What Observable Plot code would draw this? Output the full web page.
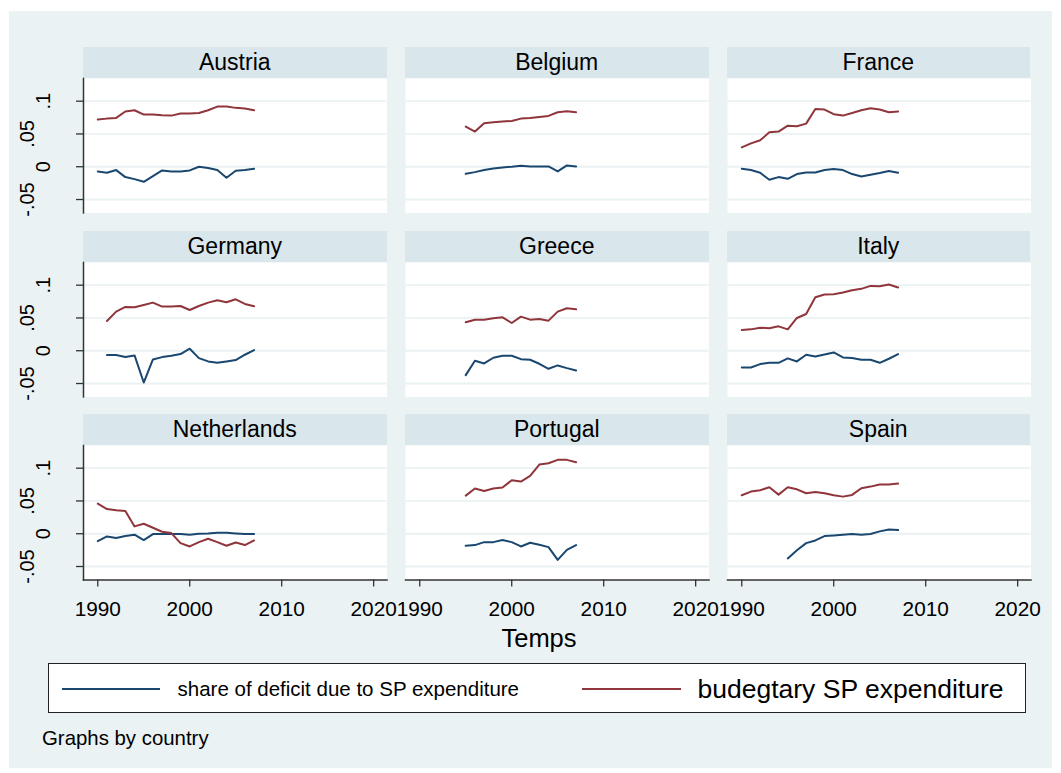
<!DOCTYPE html>
<html>
<head>
<meta charset="utf-8">
<script src="https://cdn.jsdelivr.net/npm/d3@7"></script>
<script src="https://cdn.jsdelivr.net/npm/@observablehq/plot@0.6"></script>
<style>
  body { margin: 0; background: #fff; font-family: "Liberation Sans", Arial, sans-serif; }
  #root { position: relative; width: 1061px; height: 773px; background: #fff; overflow: hidden; }
  #bg { position: absolute; left: 9px; top: 11px; width: 1043px; height: 757px; background: #EAF2F3; }
  .hdr { position: absolute; background: #D9E6EB; display: flex; align-items: center; justify-content: center;
         font-size: 23px; color: #000; white-space: nowrap; }
  .panel { position: absolute; }
  .txt { position: absolute; color: #000; white-space: nowrap; line-height: 1; }
  #legend { position: absolute; left: 47.5px; top: 663px; width: 976px; height: 48px; background: #fff; border: 1px solid #222; }
  .swatch { position: absolute; height: 2px; }
</style>
</head>
<body>
<div id="root"><div id="bg"></div></div>
<script>
// ---------- data ----------
const countries = ["Austria", "Belgium", "France", "Germany", "Greece", "Italy", "Netherlands", "Portugal", "Spain"];
const seriesNames = ["share of deficit due to SP expenditure", "budegtary SP expenditure"];
const seriesColors = ["#1A476F", "#90353B"];

const years1990 = [1990, 1991, 1992, 1993, 1994, 1995, 1996, 1997, 1998, 1999, 2000, 2001, 2002, 2003, 2004, 2005, 2006, 2007];
const years1991 = [1991, 1992, 1993, 1994, 1995, 1996, 1997, 1998, 1999, 2000, 2001, 2002, 2003, 2004, 2005, 2006, 2007];
const years1995 = [1995, 1996, 1997, 1998, 1999, 2000, 2001, 2002, 2003, 2004, 2005, 2006, 2007];

const austriaDeficit = [-0.0071, -0.0092, -0.0051, -0.0158, -0.0189, -0.0230, -0.0143, -0.0056, -0.0071, -0.0071, -0.0056, 0.0000, -0.0020, -0.0051, -0.0168, -0.0061, -0.0051, -0.0031];
const austriaSpending = [0.0719, 0.0734, 0.0745, 0.0842, 0.0862, 0.0796, 0.0796, 0.0785, 0.0780, 0.0811, 0.0811, 0.0821, 0.0862, 0.0918, 0.0918, 0.0898, 0.0887, 0.0862];

const belgiumDeficit = [-0.0107, -0.0082, -0.0051, -0.0026, -0.0010, 0.0000, 0.0015, 0.0005, 0.0005, 0.0005, -0.0071, 0.0020, 0.0005];
const belgiumSpending = [0.0612, 0.0536, 0.0663, 0.0678, 0.0689, 0.0699, 0.0734, 0.0745, 0.0760, 0.0775, 0.0831, 0.0847, 0.0831];

const franceDeficit = [-0.0031, -0.0051, -0.0092, -0.0199, -0.0158, -0.0184, -0.0112, -0.0087, -0.0087, -0.0051, -0.0036, -0.0051, -0.0112, -0.0148, -0.0122, -0.0097, -0.0066, -0.0092];
const franceSpending = [0.0296, 0.0357, 0.0403, 0.0525, 0.0536, 0.0627, 0.0617, 0.0658, 0.0882, 0.0872, 0.0801, 0.0780, 0.0821, 0.0862, 0.0893, 0.0872, 0.0831, 0.0842];

const germanyDeficit = [-0.0066, -0.0066, -0.0097, -0.0071, -0.0485, -0.0133, -0.0097, -0.0077, -0.0051, 0.0031, -0.0112, -0.0163, -0.0184, -0.0163, -0.0143, -0.0061, 0.0010];
const germanySpending = [0.0454, 0.0597, 0.0668, 0.0663, 0.0699, 0.0734, 0.0673, 0.0673, 0.0683, 0.0622, 0.0683, 0.0734, 0.0770, 0.0740, 0.0785, 0.0714, 0.0678];

const greeceDeficit = [-0.0372, -0.0153, -0.0194, -0.0107, -0.0077, -0.0077, -0.0128, -0.0138, -0.0199, -0.0275, -0.0224, -0.0265, -0.0301];
const greeceSpending = [0.0434, 0.0474, 0.0474, 0.0495, 0.0510, 0.0423, 0.0520, 0.0474, 0.0485, 0.0459, 0.0597, 0.0648, 0.0632];

const italyDeficit = [-0.0255, -0.0255, -0.0204, -0.0184, -0.0184, -0.0117, -0.0163, -0.0061, -0.0087, -0.0056, -0.0026, -0.0102, -0.0112, -0.0138, -0.0138, -0.0184, -0.0122, -0.0051];
const italySpending = [0.0316, 0.0326, 0.0352, 0.0342, 0.0372, 0.0326, 0.0500, 0.0561, 0.0816, 0.0857, 0.0862, 0.0887, 0.0923, 0.0944, 0.0989, 0.0984, 0.1010, 0.0964];

const netherlandsDeficit = [-0.0112, -0.0041, -0.0066, -0.0036, -0.0015, -0.0097, -0.0005, -0.0005, -0.0005, -0.0005, -0.0015, 0.0000, 0.0005, 0.0015, 0.0015, 0.0005, -0.0005, -0.0005];
const netherlandsSpending = [0.0459, 0.0377, 0.0357, 0.0347, 0.0112, 0.0153, 0.0092, 0.0031, 0.0010, -0.0143, -0.0194, -0.0128, -0.0077, -0.0128, -0.0184, -0.0133, -0.0173, -0.0102];

const portugalDeficit = [-0.0184, -0.0173, -0.0128, -0.0128, -0.0097, -0.0128, -0.0194, -0.0138, -0.0168, -0.0204, -0.0398, -0.0245, -0.0173];
const portugalSpending = [0.0581, 0.0689, 0.0653, 0.0689, 0.0704, 0.0816, 0.0796, 0.0882, 0.1056, 0.1076, 0.1127, 0.1127, 0.1091];

const spainDeficit = [-0.0377, -0.0251, -0.0143, -0.0102, -0.0036, -0.0026, -0.0015, -0.0005, -0.0015, -0.0005, 0.0036, 0.0066, 0.0056];
const spainSpending = [0.0587, 0.0643, 0.0663, 0.0709, 0.0597, 0.0709, 0.0678, 0.0617, 0.0638, 0.0617, 0.0587, 0.0566, 0.0592, 0.0694, 0.0719, 0.0750, 0.0750, 0.0765];

const yTicks = [-0.05, 0, 0.05, 0.1];
const yTickLabels = ["-.05", "0", ".05", ".1"];
const xTicks = [1990, 2000, 2010, 2020];
const xTickLabels = ["1990", "2000", "2010", "2020"];
const xTitle = "Temps";
const note = "Graphs by country";

// ---------- assemble ----------
const panelSeries = [
  [years1990, austriaDeficit, years1990, austriaSpending],
  [years1995, belgiumDeficit, years1995, belgiumSpending],
  [years1990, franceDeficit, years1990, franceSpending],
  [years1991, germanyDeficit, years1991, germanySpending],
  [years1995, greeceDeficit, years1995, greeceSpending],
  [years1990, italyDeficit, years1990, italySpending],
  [years1990, netherlandsDeficit, years1990, netherlandsSpending],
  [years1995, portugalDeficit, years1995, portugalSpending],
  [years1995, spainDeficit, years1990, spainSpending]
];

const root = document.getElementById("root");
const colLeft = [83, 405, 726.5];
const rowTop = [47.3, 230.6, 413.9];
const panelW = 303.5, headerH = 31, plotH = 134.4;
const xDomain = [1988.45, 2021.45];
const yDomain = [-0.0704, 0.1346];
const font = "'Liberation Sans', Arial, sans-serif";
const yFmt = d => yTickLabels[yTicks.indexOf(d)];
const outerTicks = yTicks.filter((d, i) => i % 2 === 0);
const innerTicks = yTicks.filter((d, i) => i % 2 === 1);

countries.forEach((name, i) => {
  const col = i % 3, row = Math.floor(i / 3);
  const isLeft = col === 0, isBottom = row === 2;
  const [dy, dv, sy, sv] = panelSeries[i];
  const rows = [
    ...dy.map((year, k) => ({year, value: dv[k], series: seriesNames[0]})),
    ...sy.map((year, k) => ({year, value: sv[k], series: seriesNames[1]}))
  ];

  const hdr = document.createElement("div");
  hdr.className = "hdr";
  hdr.style.left = colLeft[col] + "px";
  hdr.style.top = rowTop[row] + "px";
  hdr.style.width = panelW + "px";
  hdr.style.height = headerH + "px";
  hdr.textContent = name;
  root.appendChild(hdr);

  const mL = isLeft ? 83 : 0;
  const mB = isBottom ? 50 : 0;
  const chart = Plot.plot({
    width: panelW + mL,
    height: plotH + mB,
    marginLeft: mL, marginRight: 0, marginTop: 0, marginBottom: mB,
    x: {domain: xDomain, axis: null},
    y: {domain: yDomain, axis: null},
    color: {domain: seriesNames, range: seriesColors},
    style: {background: "transparent", overflow: "visible", fontFamily: font, color: "#000"},
    marks: [
      Plot.frame({fill: "white", stroke: null}),
      Plot.ruleY(yTicks, {stroke: "#EAF2F3", strokeWidth: 1.8}),
      Plot.line(rows, {x: "year", y: "value", z: "series", stroke: "series", strokeWidth: 2}),
      isLeft ? Plot.axisY({ticks: innerTicks, tickFormat: yFmt, tickSize: 7,
        tickRotate: -90, tickPadding: 27, fontSize: 20, label: null, stroke: "#333", strokeWidth: 1.3}) : null,
      isLeft ? Plot.axisY({ticks: outerTicks, tickFormat: yFmt, tickSize: 7,
        tickRotate: -90, tickPadding: 43, fontSize: 20, label: null, stroke: "#333", strokeWidth: 1.3}) : null,
      isLeft ? Plot.frame({anchor: "left", stroke: "#333", strokeWidth: 1.5}) : null,
      isBottom ? Plot.axisX({ticks: xTicks, tickFormat: d => xTickLabels[xTicks.indexOf(d)], tickSize: 7,
        tickPadding: 14, fontSize: 20.8, label: null, stroke: "#333", strokeWidth: 1.3}) : null,
      isBottom ? Plot.frame({anchor: "bottom", stroke: "#333", strokeWidth: 1.5}) : null
    ]
  });
  chart.classList.add("panel");
  chart.style.left = (colLeft[col] - mL) + "px";
  chart.style.top = (rowTop[row] + headerH) + "px";
  root.appendChild(chart);
});

// axis title
const t = document.createElement("div");
t.className = "txt";
t.style.fontSize = "25.5px";
t.style.left = "539px";
t.style.top = "639px";
t.style.transform = "translate(-50%, -50%)";
t.textContent = xTitle;
root.appendChild(t);

// legend
const lg = document.createElement("div");
lg.id = "legend";
root.appendChild(lg);
const legendItems = [
  {sx: 13, sw: 98, tx: 129, fs: 20.5},
  {sx: 533, sw: 99, tx: 649, fs: 26.5}
];
seriesNames.forEach((s, k) => {
  const sw = document.createElement("div");
  sw.className = "swatch";
  sw.style.left = legendItems[k].sx + "px";
  sw.style.width = legendItems[k].sw + "px";
  sw.style.top = "24px";
  sw.style.background = seriesColors[k];
  lg.appendChild(sw);
  const tx = document.createElement("div");
  tx.className = "txt";
  tx.style.left = legendItems[k].tx + "px";
  tx.style.top = "25px";
  tx.style.transform = "translateY(-50%)";
  tx.style.fontSize = legendItems[k].fs + "px";
  tx.textContent = s;
  lg.appendChild(tx);
});

// note
const n = document.createElement("div");
n.className = "txt";
n.style.left = "42px";
n.style.top = "738px";
n.style.transform = "translateY(-50%)";
n.style.fontSize = "20.4px";
n.textContent = note;
root.appendChild(n);
</script>
</body>
</html>
